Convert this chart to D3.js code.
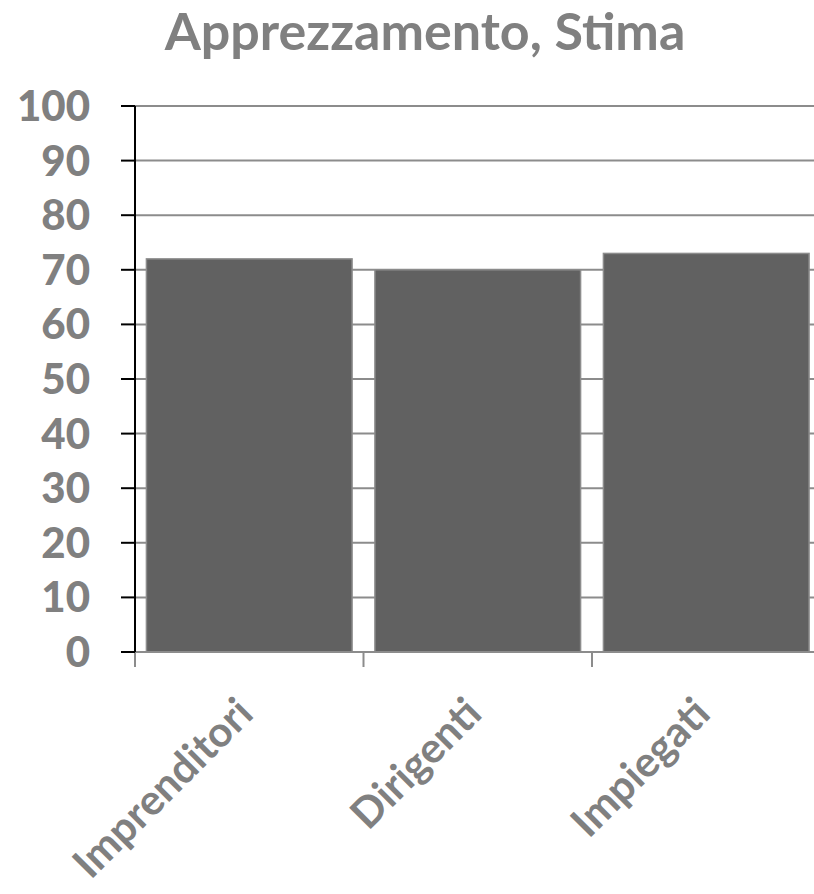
<!DOCTYPE html>
<html>
<head>
<meta charset="utf-8">
<script src="https://cdn.jsdelivr.net/npm/d3@7"></script>
<style>
  body { margin: 0; background: #fff; }
  text { font-family: Lato, "Open Sans", sans-serif; font-weight: bold; fill: #808080; }
</style>
</head>
<body>
<div id="a"></div>
<script>
// data
var title = "Apprezzamento, Stima";
var categories = ["Imprenditori", "Dirigenti", "Impiegati"];
var values = [72, 70, 73];
var yTicks = [0, 10, 20, 30, 40, 50, 60, 70, 80, 90, 100];

var W = 814, H = 894;
var svg = d3.select("#a").append("svg")
  .attr("width", W)
  .attr("height", H);

var x = d3.scaleBand().domain(categories).range([135, 820.5])
  .paddingInner(0.1).paddingOuter(0.05);
var y = d3.scaleLinear().domain([0, 100]).range([652, 106]);

svg.append("text")
  .attr("x", 425).attr("y", 50)
  .attr("text-anchor", "middle")
  .style("font-size", "52px")
  .text(title);

// gridlines
svg.selectAll("line.grid")
  .data(yTicks.filter(function(d){ return d > 0; }))
  .enter().append("line")
  .attr("class", "grid")
  .attr("x1", 135).attr("x2", W)
  .attr("y1", function(d){ return y(d); })
  .attr("y2", function(d){ return y(d); })
  .attr("stroke", "#8c8c8c").attr("stroke-width", 2);

// bars
svg.selectAll("rect")
  .data(values)
  .enter().append("rect")
  .attr("x", function(d,i){ return x(categories[i]); })
  .attr("width", x.bandwidth())
  .attr("y", function(d){ return y(d); })
  .attr("height", function(d){ return y(0) - y(d); })
  .attr("fill", "#616161")
  .attr("stroke", "#8c8c8c").attr("stroke-width", 1.5);

// x axis line + ticks
svg.append("line")
  .attr("x1", 135).attr("x2", W)
  .attr("y1", y(0)).attr("y2", y(0))
  .attr("stroke", "#8c8c8c").attr("stroke-width", 2);
var xEdges = categories.map(function(c){ return x(c) - x.step() * x.paddingOuter(); });
svg.selectAll("line.xt")
  .data(xEdges)
  .enter().append("line")
  .attr("class", "xt")
  .attr("x1", function(d){ return d; }).attr("x2", function(d){ return d; })
  .attr("y1", y(0)).attr("y2", y(0) + 15)
  .attr("stroke", "#8c8c8c").attr("stroke-width", 2);

// y axis
svg.append("line")
  .attr("x1", 135).attr("x2", 135)
  .attr("y1", y(100)).attr("y2", y(0))
  .attr("stroke", "#000").attr("stroke-width", 2);
svg.selectAll("line.yt")
  .data(yTicks)
  .enter().append("line")
  .attr("class", "yt")
  .attr("x1", 121).attr("x2", 135)
  .attr("y1", function(d){ return y(d); })
  .attr("y2", function(d){ return y(d); })
  .attr("stroke", "#000").attr("stroke-width", 2);
svg.selectAll("text.yl")
  .data(yTicks)
  .enter().append("text")
  .attr("class", "yl")
  .attr("x", 90)
  .attr("y", function(d){ return y(d) + 15; })
  .attr("text-anchor", "end")
  .style("font-size", "42px")
  .style("font-weight", 900)
  .text(function(d){ return d; });

// category labels
svg.selectAll("text.xl")
  .data(categories)
  .enter().append("text")
  .attr("class", "xl")
  .attr("text-anchor", "end")
  .attr("transform", function(d){
    return "translate(" + (x(d) + x.bandwidth() / 2 + 6) + "," + 716 + ") rotate(-45)";
  })
  .style("font-size", "42px")
  .text(function(d){ return d; });
</script>
</body>
</html>
